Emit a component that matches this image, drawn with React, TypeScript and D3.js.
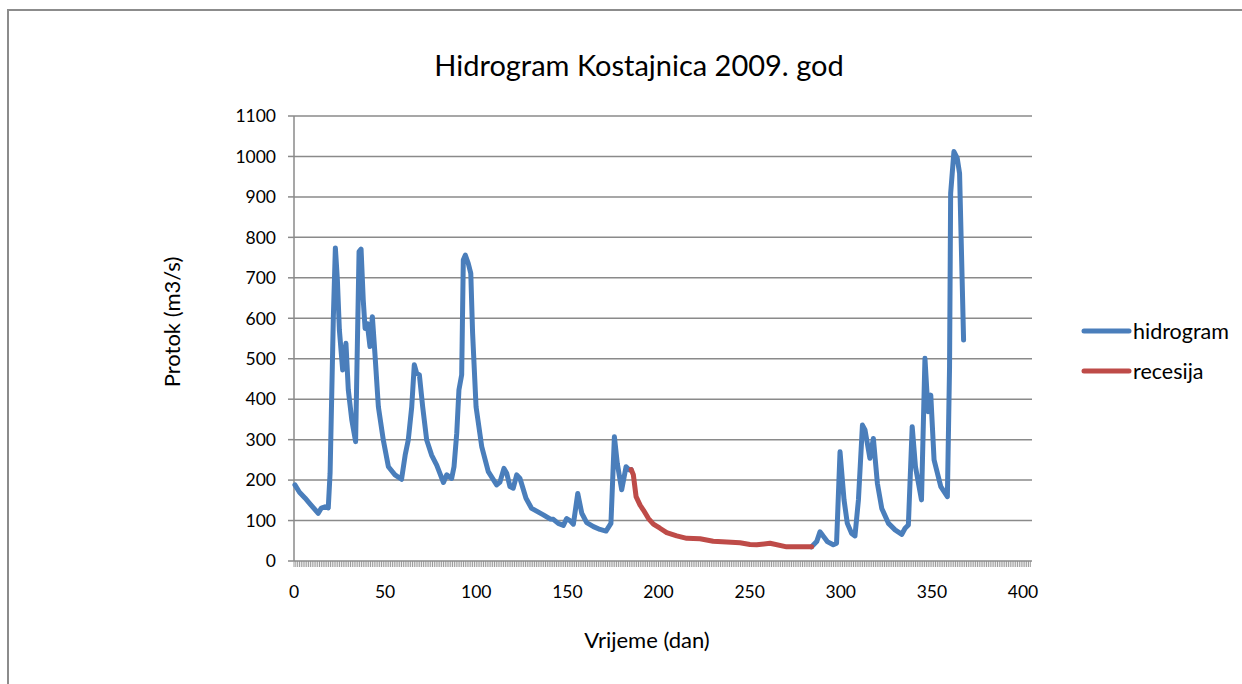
import React from "react";
import * as d3 from "d3";

const title = "Hidrogram Kostajnica 2009. god";
const xTitle = "Vrijeme (dan)";
const yTitle = "Protok (m3/s)";
const xTicks = [0, 50, 100, 150, 200, 250, 300, 350, 400];
const yTicks = [0, 100, 200, 300, 400, 500, 600, 700, 800, 900, 1000, 1100];
const seriesNames = ["hidrogram", "recesija"];
const seriesColors = ["#4A7EBB", "#BE4B48"];

// hidrogram: [day, flow]; the part between A and B is covered by recesija
const hidrogramA: [number, number][] = [
  [0.5, 188], [3, 170], [6, 156], [9, 140], [13.3, 118], [15, 131], [17, 134], [18.8, 131],
  [19.8, 217], [21.6, 604], [22.7, 774], [23.8, 695], [24.9, 571], [26.7, 472], [28.5, 538],
  [29.8, 423], [31.7, 349], [33.8, 295], [35.7, 765], [36.8, 771], [38, 645], [39, 575],
  [40.2, 587], [41.7, 530], [43, 604], [44.4, 513], [46.3, 381], [49, 299], [51.8, 233],
  [55.4, 213], [59, 202], [61, 262], [62.7, 299], [64.6, 381], [66, 485], [67.3, 464],
  [68.8, 460], [70.6, 381], [72.8, 299], [75.5, 262], [78.3, 237], [80, 217], [82, 194],
  [83.8, 213], [86.5, 204], [87.8, 233], [89.3, 316], [90.5, 423], [92, 460], [92.9, 744],
  [94, 756], [95.6, 736], [97, 711], [98, 563], [99.9, 381], [103, 283], [106.6, 221],
  [111.2, 188], [113, 195], [115.2, 229], [116.7, 217], [118.5, 184], [120.3, 180],
  [122.2, 213], [124, 204], [127.3, 155], [130.4, 130], [136.8, 114], [140.5, 104],
  [142.3, 103], [145, 93], [147.8, 88], [149.6, 105], [151.4, 100], [153.3, 91],
  [155.7, 167], [157.9, 118], [160.6, 95], [164.3, 85], [167.9, 78], [171.2, 74],
  [173.9, 93], [175.8, 307], [177.4, 241], [179.8, 176], [182.2, 233], [184, 225], [185, 226],
];
const hidrogramB: [number, number][] = [
  [284, 35], [286.8, 48], [288.6, 72], [290, 64], [292.6, 48], [295.9, 40], [297.7, 44],
  [299.6, 270], [301.8, 151], [303.6, 93], [306, 68], [307.8, 62], [309.7, 151],
  [311.9, 336], [313.3, 324], [316, 254], [317.9, 303], [320.1, 192], [322.5, 130],
  [326.2, 93], [329.8, 77], [333.5, 66], [335.3, 81], [337.1, 89], [339.2, 332],
  [341, 233], [344.3, 151], [346.2, 501], [347.9, 369], [349.4, 410], [351.2, 250],
  [354.9, 184], [358.5, 159], [359.7, 480], [360.3, 909], [362.1, 1012], [363.9, 996],
  [365.2, 958], [367.4, 546],
];
const recesija: [number, number][] = [
  [185, 226], [186.2, 213], [187.7, 159], [189.9, 138], [191.7, 126], [194.5, 105],
  [197.2, 91], [200.8, 81], [204.5, 70], [210, 62], [215.5, 56], [222.8, 55], [230, 49],
  [237.4, 47], [244.7, 45], [250.2, 41], [253.9, 40], [261.2, 44], [270.3, 35], [284, 35],
];

const FONT = "Lato, 'Open Sans', sans-serif";

export default function App() {
  const W = 1242, H = 684;
  const x = d3.scaleLinear().domain([0, 400]).range([294, 1023]);
  const y = d3.scaleLinear().domain([0, 1100]).range([561, 116]);
  const plotRight = 1032;
  const line = d3.line<[number, number]>().x((d) => x(d[0])).y((d) => y(d[1]));
  const minorTicks = d3.range(0, 405, 1);
  const gridColor = "#8a8a8a";
  const lw = 5;

  return (
    <svg width={W} height={H} style={{ position: "absolute", left: 0, top: 0 }}>
      <rect x={0} y={0} width={W} height={H} fill="#fff" />
      <rect x={8} y={10} width={1400} height={800} fill="none" stroke="#8c8c8c" strokeWidth={2} />
      <text x={639} y={76} textAnchor="middle" fontFamily={FONT} fontSize={29} fill="#000">{title}</text>
      {yTicks.map((t) => (
        <g key={"y" + t}>
          {t > 0 && <line x1={294} x2={plotRight} y1={y(t)} y2={y(t)} stroke={gridColor} strokeWidth={1.5} />}
          <line x1={288} x2={294} y1={y(t)} y2={y(t)} stroke={gridColor} strokeWidth={1.5} />
          <text x={276} y={y(t)} dy="0.36em" textAnchor="end" fontFamily={FONT} fontSize={17.5} fill="#000">{t}</text>
        </g>
      ))}
      <line x1={294} x2={294} y1={116} y2={561} stroke={gridColor} strokeWidth={1.5} />
      {minorTicks.map((t) => (
        <line key={"m" + t} x1={x(t)} x2={x(t)} y1={561} y2={567} stroke="#9a9a9a" strokeWidth={1} />
      ))}
      <line x1={294} x2={plotRight} y1={561} y2={561} stroke={gridColor} strokeWidth={1.5} />
      {xTicks.map((t) => (
        <text key={"x" + t} x={x(t)} y={598} textAnchor="middle" fontFamily={FONT} fontSize={17.5} fill="#000">{t}</text>
      ))}
      <text x={647} y={648} textAnchor="middle" fontFamily={FONT} fontSize={22} fill="#000">{xTitle}</text>
      <text transform={`translate(180,322) rotate(-90)`} textAnchor="middle" fontFamily={FONT} fontSize={22} fill="#000">{yTitle}</text>
      <path d={line(hidrogramA) || ""} fill="none" stroke={seriesColors[0]} strokeWidth={lw} strokeLinejoin="round" strokeLinecap="round" />
      <path d={line(hidrogramB) || ""} fill="none" stroke={seriesColors[0]} strokeWidth={lw} strokeLinejoin="round" strokeLinecap="round" />
      <path d={line(recesija) || ""} fill="none" stroke={seriesColors[1]} strokeWidth={lw} strokeLinejoin="round" strokeLinecap="round" />
      {seriesNames.map((n, i) => (
        <g key={n}>
          <line x1={1084} x2={1129} y1={331 + i * 40} y2={331 + i * 40} stroke={seriesColors[i]} strokeWidth={lw} strokeLinecap="round" />
          <text x={1133} y={331 + i * 40} dy="0.36em" fontFamily={FONT} fontSize={21.5} fill="#000">{n}</text>
        </g>
      ))}
    </svg>
  );
}
